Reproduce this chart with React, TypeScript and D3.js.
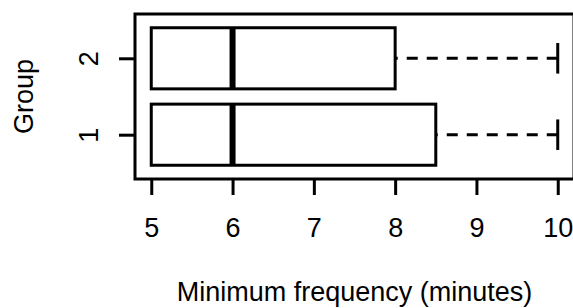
import * as d3 from 'd3';
import React, { useEffect, useRef } from 'react';

// box statistics per group (minutes)
const groups = ['1', '2'];
const lowerWhisker = [5, 5];
const lowerQuartile = [5, 5];
const medians = [6, 6];
const upperQuartile = [8.5, 8];
const upperWhisker = [10, 10];

const xTicks = [5, 6, 7, 8, 9, 10];
const xTitle = 'Minimum frequency (minutes)';
const yTitle = 'Group';

const W = 573;
const H = 308;
const FONT = '"Liberation Sans", Arial, sans-serif';

/**
 * Horizontal box plot, base R look.
 */
export default function App() {
    const ref = useRef<SVGSVGElement>(null);

    useEffect(() => {
        const svg = d3.select(ref.current);
        svg.selectAll('*').remove();

        // R pads the data range by 4% on each side
        const x = d3.scaleLinear().domain([4.8, 10.2]).range([135, 574]);
        const y = d3.scaleLinear().domain([0.42, 2.58]).range([179, 14]);

        const halfBox = y(0) - y(0.4);
        const halfStaple = y(0) - y(0.2);

        const data = groups.map((g, i) => ({
            pos: i + 1,
            lo: lowerWhisker[i],
            q1: lowerQuartile[i],
            med: medians[i],
            q3: upperQuartile[i],
            hi: upperWhisker[i]
        }));

        const boxes = svg.append('g')
            .selectAll('g')
            .data(data)
            .enter()
            .append('g');

        // whiskers drawn from the end towards the box, like bxp()
        boxes.append('line')
            .attr('x1', d => x(d.hi))
            .attr('x2', d => x(d.q3))
            .attr('y1', d => y(d.pos))
            .attr('y2', d => y(d.pos))
            .attr('stroke', '#000')
            .attr('stroke-width', 3)
            .attr('stroke-dasharray', '11,9');
        boxes.filter(d => d.lo < d.q1)
            .append('line')
            .attr('x1', d => x(d.lo))
            .attr('x2', d => x(d.q1))
            .attr('y1', d => y(d.pos))
            .attr('y2', d => y(d.pos))
            .attr('stroke', '#000')
            .attr('stroke-width', 3)
            .attr('stroke-dasharray', '11,9');
        boxes.append('line')
            .attr('x1', d => x(d.hi))
            .attr('x2', d => x(d.hi))
            .attr('y1', d => y(d.pos) - halfStaple)
            .attr('y2', d => y(d.pos) + halfStaple)
            .attr('stroke', '#000')
            .attr('stroke-width', 3);

        boxes.append('rect')
            .attr('x', d => x(d.q1))
            .attr('width', d => x(d.q3) - x(d.q1))
            .attr('y', d => y(d.pos) - halfBox)
            .attr('height', halfBox * 2)
            .attr('fill', '#fff')
            .attr('stroke', '#000')
            .attr('stroke-width', 3);

        boxes.append('line')
            .attr('x1', d => x(d.med))
            .attr('x2', d => x(d.med))
            .attr('y1', d => y(d.pos) - halfBox)
            .attr('y2', d => y(d.pos) + halfBox)
            .attr('stroke', '#000')
            .attr('stroke-width', 6);

        // frame
        svg.append('rect')
            .attr('x', x(4.8))
            .attr('y', y(2.58))
            .attr('width', x(10.2) - x(4.8))
            .attr('height', y(0.42) - y(2.58))
            .attr('fill', 'none')
            .attr('stroke', '#000')
            .attr('stroke-width', 3);

        const xAxis = d3.axisBottom(x)
            .tickValues(xTicks)
            .tickSize(16)
            .tickPadding(23)
            .tickFormat(d3.format('d'));

        const gx = svg.append('g')
            .attr('transform', `translate(0, ${y(0.42)})`)
            .call(xAxis);
        gx.select('.domain').remove();
        gx.selectAll('line').attr('stroke', '#000').attr('stroke-width', 3);
        gx.selectAll('text')
            .attr('fill', '#000')
            .style('font-family', FONT)
            .style('font-size', '27px');

        const yAxis = d3.axisLeft(y)
            .tickValues(groups.map((_, i) => i + 1))
            .tickSize(16)
            .tickFormat((_, i) => groups[i]);

        const gy = svg.append('g')
            .attr('transform', `translate(${x(4.8)}, 0)`)
            .call(yAxis);
        gy.select('.domain').remove();
        gy.selectAll('line').attr('stroke', '#000').attr('stroke-width', 3);
        gy.selectAll('text')
            .attr('fill', '#000')
            .attr('x', 0)
            .attr('dy', 0)
            .attr('transform', 'translate(-37, 0) rotate(-90)')
            .style('text-anchor', 'middle')
            .style('font-family', FONT)
            .style('font-size', '27px');

        svg.append('text')
            .attr('x', (x(4.8) + x(10.2)) / 2)
            .attr('y', 301)
            .attr('text-anchor', 'middle')
            .attr('fill', '#000')
            .style('font-family', FONT)
            .style('font-size', '27px')
            .text(xTitle);

        svg.append('text')
            .attr('transform', `translate(33, ${(y(0.42) + y(2.58)) / 2}) rotate(-90)`)
            .attr('text-anchor', 'middle')
            .attr('fill', '#000')
            .style('font-family', FONT)
            .style('font-size', '27px')
            .text(yTitle);
    }, []);

    return (
        <svg
            ref={ref}
            width={W}
            height={H}
            style={{ position: 'absolute', left: 0, top: 0, background: '#fff' }}
        />
    );
}
